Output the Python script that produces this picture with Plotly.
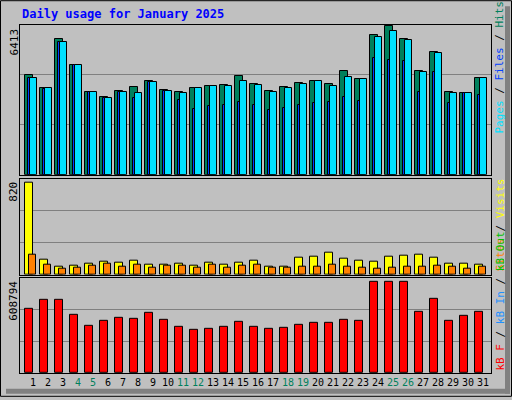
import plotly.graph_objects as go
from plotly.subplots import make_subplots

days = list(range(1, 32))
weekends = [4, 5, 11, 12, 18, 19, 25, 26]

# values
hits = [4375, 3807, 5992, 4856, 3633, 3415, 3677, 3852, 4114, 3721, 3633, 3808, 3895,
        3939, 4332, 3983, 3677, 3852, 4027, 4114, 3983, 4595, 4201, 6167, 6560, 5992,
        4551, 5425, 3633, 3590, 4245]
files = [4245, 3790, 5862, 4856, 3633, 3371, 3633, 3371, 4070, 3677, 3284, 2891, 3017,
         3060, 3209, 3066, 2848, 2935, 3066, 3153, 3197, 3415, 3240, 5161, 5069, 5026,
         3633, 4507, 3153, 3590, 3525]
pages = [4245, 3807, 5862, 4856, 3633, 3371, 3633, 3590, 4070, 3677, 3590, 3808, 3895,
         3895, 4114, 3939, 3633, 3808, 3983, 4114, 3895, 4289, 4201, 6080, 6342, 5949,
         4507, 5381, 3590, 3590, 4245]
visits = [820, 136, 74, 83, 101, 118, 110, 127, 92, 92, 101, 83, 110, 92, 110, 127, 74,
          74, 154, 163, 198, 145, 127, 118, 163, 172, 181, 154, 101, 101, 92]
sites = [181, 92, 56, 65, 83, 101, 74, 92, 65, 83, 83, 65, 92, 65, 83, 92, 65, 65, 74,
         74, 92, 74, 65, 56, 65, 74, 74, 83, 74, 56, 74]
kbytes = [426650, 493310, 493310, 386655, 313328, 346659, 366657, 359991, 399988,
          353325, 306662, 286664, 293330, 306662, 339993, 306662, 293330, 299996,
          319995, 333327, 333327, 353325, 346659, 608794, 608794, 608794, 406654,
          499976, 346659, 379989, 406654]

HITS_C, FILES_C, PAGES_C = "#00805c", "#0040ff", "#00e0ff"
VISITS_C, SITES_C, KB_C = "#ffff00", "#ff8000", "#ff0000"
BG = "#c0c0c0"
MONO = "DejaVu Sans Mono"

W, H = 512, 400
L, R, T, B = 20, 21, 25, 24


def px_x(x):
    return (x - L) / (W - L - R)


def px_y(y):
    return (H - B - y) / (H - T - B)


fig = make_subplots(rows=3, cols=1, shared_xaxes=True)

line = {"color": "black", "width": 1}


def add_bar(y, row, color, offset, width):
    fig.add_trace(
        go.Bar(x=days, y=y, offset=offset, width=width,
               marker={"color": color, "line": line}, showlegend=False),
        row=row, col=1,
    )


add_bar(hits, 1, HITS_C, -0.53, 0.5)
add_bar(files, 1, FILES_C, -0.35, 0.5)
add_bar(pages, 1, PAGES_C, -0.22, 0.47)
add_bar(visits, 2, VISITS_C, -0.53, 0.5)
add_bar(sites, 2, SITES_C, -0.27, 0.5)
add_bar(kbytes, 3, KB_C, -0.53, 0.5)

ranges = [6413 * 151 / 146.7, 820 * 97 / 92.7, 608794 * 96 / 91.7]
domains = [[px_y(176), 1.0], [px_y(277), px_y(180)], [0.0, px_y(280)]]

ticktext = [f"<span style='color:{HITS_C}'>{d}</span>" if d in weekends else str(d)
            for d in days]

for i, (rng, dom) in enumerate(zip(ranges, domains), start=1):
    fig.update_yaxes(range=[0, rng], domain=dom, tickvals=[rng / 3, 2 * rng / 3],
                     showticklabels=False, gridcolor="#808080", gridwidth=1,
                     showline=True, mirror=True, linecolor="black", zeroline=False,
                     ticks="", row=i, col=1)
    fig.update_xaxes(range=[1 - 13 / 15, 1 + 458 / 15], showline=True, mirror=True,
                     linecolor="black", showgrid=False, ticks="", row=i, col=1)

fig.update_xaxes(tickvals=days, ticktext=ticktext, tickangle=0,
                 tickfont={"family": MONO, "size": 10, "color": "black"}, row=3, col=1)

annotations = [
    dict(x=px_x(20), y=px_y(14), text="<b>Daily usage for January 2025</b>",
         font={"family": MONO, "size": 12, "color": "#0000ff"}),
]
for label, ytop in [("6413", 27), ("820", 181), ("608794", 281)]:
    annotations.append(dict(x=px_x(14), y=px_y(ytop), text=label, textangle=-90,
                            yanchor="top", xanchor="center",
                            font={"family": MONO, "size": 11, "color": "black"}))


def legend(parts):
    return " / ".join(f"<span style='color:{c}'>{t}</span>" for t, c in parts)


for parts, ybot in [
    ([("Pages", PAGES_C), ("Files", FILES_C), ("Hits", HITS_C)], 137),
    ([("Sites", SITES_C), ("Visits", VISITS_C)], 276),
    ([("kB F", KB_C), ("kB In", "#1e90ff"), ("kB Out", "#00c000")], 376),
]:
    annotations.append(dict(x=px_x(500), y=px_y(ybot), text=legend(parts), textangle=-90,
                            yanchor="bottom", xanchor="center",
                            font={"family": MONO, "size": 11, "color": "black"}))

for a in annotations:
    a.update(xref="paper", yref="paper", showarrow=False)
annotations[0].update(xanchor="left", yanchor="middle")

shapes = [
    dict(type="rect", x0=px_x(0.5), x1=px_x(511.5), y0=px_y(399.5), y1=px_y(0.5),
         line={"color": "black", "width": 1}, layer="below"),
    dict(type="rect", x0=px_x(505), x1=px_x(510), y0=px_y(397), y1=px_y(6),
         fillcolor="#808080", line={"width": 0}, layer="below"),
    dict(type="rect", x0=px_x(6), x1=px_x(510), y0=px_y(397), y1=px_y(392),
         fillcolor="#808080", line={"width": 0}, layer="below"),
]
for s in shapes:
    s.update(xref="paper", yref="paper")

fig.update_layout(
    width=W, height=H,
    margin={"l": L, "r": R, "t": T, "b": B},
    paper_bgcolor=BG, plot_bgcolor=BG,
    barmode="overlay", bargap=0,
    showlegend=False,
    annotations=annotations, shapes=shapes,
)

fig.write_html("out.html", config={"displayModeBar": False},
               post_script="document.body.style.margin='0';")
